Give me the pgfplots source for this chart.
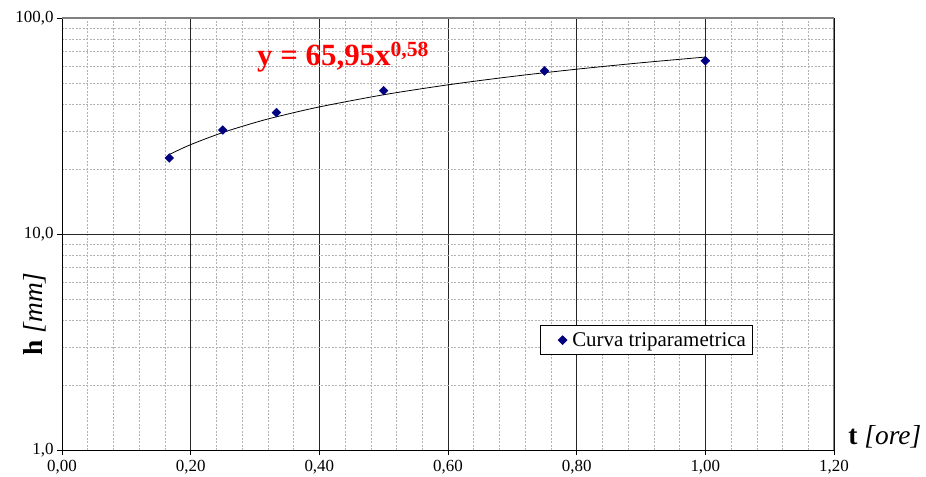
\documentclass[border=0pt]{standalone}
\usepackage{fontspec}
\setmainfont{Liberation Serif}
\usepackage{pgfplots}
\pgfplotsset{compat=1.18}
\definecolor{navyd}{RGB}{0,0,128}
\begin{document}
\begin{tikzpicture}
\path[use as bounding box] (-62bp,-27bp) rectangle (864bp,450bp);
\begin{axis}[
  at={(0,0)}, anchor=south west,
  width=772bp, height=432bp, scale only axis,
  xmin=0, xmax=1.2, ymode=log, ymin=1, ymax=100,
  xtick={0,0.2,0.4,0.6,0.8,1.0,1.2},
  xticklabels={{0,00},{0,20},{0,40},{0,60},{0,80},{1,00},{1,20}},
  minor x tick num=4,
  ytick={1,10,100},
  yticklabels={{1,0},{10,0},{100,0}},
  grid=both,
  major grid style={black!85, line width=0.6pt},
  minor grid style={black!30, dash pattern=on 2bp off 1.5bp, line width=0.5pt},
  axis line style={black, line width=0.8pt},
  tick align=outside, xtick pos=bottom, ytick pos=left,
  major tick length=5bp, minor tick length=0pt,
  tick style={black, line width=0.8pt},
  ticklabel style={font=\fontsize{17}{17}\selectfont},
  xticklabel style={yshift=-2bp},
  /pgf/number format/assume math mode=true,
  xlabel={\textbf{t} \textit{[ore]}},
  ylabel={\textbf{h} \textit{[mm]}},
  label style={font=\fontsize{27.5}{27.5}\selectfont},
  xlabel style={at={(rel axis cs:1.0185,0.030)}, anchor=west, inner sep=0pt},
  ylabel style={at={(rel axis cs:-0.035,0.315)}, anchor=center},
  legend style={at={(rel axis cs:0.619,0.289)}, anchor=north west,
    draw=black, line width=0.6pt, font=\fontsize{21}{21}\selectfont,
    inner xsep=4bp, inner ysep=5bp},
  legend cell align=left,
  legend image code/.code={\path (0cm,0cm) (0.9cm,0cm); \draw plot coordinates {(0.64cm,0cm)};},
]
\addplot[black, line width=0.8pt, smooth, forget plot] coordinates {
  (0.1667,23.33) (0.2,25.93) (0.25,29.51) (0.3,32.80) (0.3333,34.87)
  (0.4,38.76) (0.5,44.12) (0.6,49.04) (0.7,53.62) (0.8,57.94) (0.9,62.04) (1.0,65.95)};
\addplot[only marks, mark=square*, mark size=3.1bp, navyd, mark options={fill=navyd, draw=navyd, rotate=45}] coordinates {
  (0.1667,22.5) (0.25,30.3) (0.3333,36.5) (0.5,46.1) (0.75,56.9) (1.0,63.4)};
\addlegendentry{Curva triparametrica\hspace{7bp}}
\draw[black!50, line width=1.2pt] (rel axis cs:0,1) -- (rel axis cs:1,1) -- (rel axis cs:1,0);
\node[anchor=base west, text=red, font=\bfseries\fontsize{31}{31}\selectfont, inner sep=0pt]
  at (rel axis cs:0.2526,0.889) {y = 65,95x\textsuperscript{0,58}};
\end{axis}
\end{tikzpicture}
\end{document}
